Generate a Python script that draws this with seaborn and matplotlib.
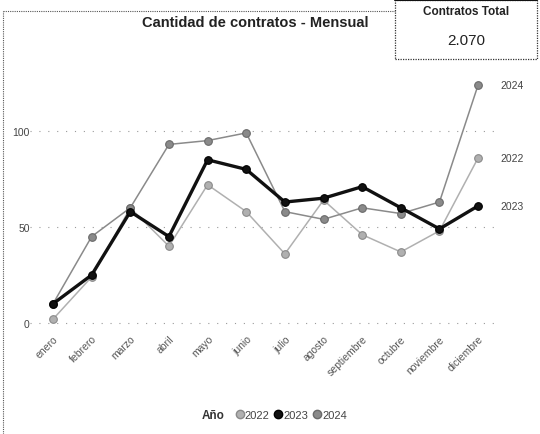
import matplotlib
matplotlib.use("Agg")
import matplotlib.pyplot as plt
from matplotlib.lines import Line2D
from matplotlib.patches import Rectangle
import seaborn as sns
import pandas as pd

meses = ["enero", "febrero", "marzo", "abril", "mayo", "junio", "julio",
         "agosto", "septiembre", "octubre", "noviembre", "diciembre"]
v2022 = [2, 24, 60, 40, 72, 58, 36, 64, 46, 37, 48, 86]
v2023 = [10, 25, 58, 45, 85, 80, 63, 65, 71, 60, 49, 61]
v2024 = [10, 45, 60, 93, 95, 99, 58, 54, 60, 57, 63, 124]
anios = ["2022", "2023", "2024"]
total_label = "2.070"

sns.set_theme(style="white")
plt.rcParams["font.family"] = ["Liberation Sans", "DejaVu Sans"]

rows = []
for a, vals in zip(anios, [v2022, v2023, v2024]):
    for i, (m, v) in enumerate(zip(meses, vals)):
        rows.append({"Año": a, "mes": i, "valor": v})
df = pd.DataFrame(rows)

colors = {"2022": "#b0b0b0", "2023": "#111111", "2024": "#8a8a8a"}
widths = {"2022": 1.1, "2023": 2.4, "2024": 1.1}
mec = {"2022": "#8a8a8a", "2023": "#000000", "2024": "#6a6a6a"}

fig = plt.figure(figsize=(5.4, 4.35), dpi=100)
ax = fig.add_axes([0.0552, 0.2375, 0.866, 0.5915])

for a in ["2022", "2024", "2023"]:
    sub = df[df["Año"] == a]
    sns.lineplot(data=sub, x="mes", y="valor", ax=ax, color=colors[a],
                 linewidth=widths[a], marker="o", markersize=5.5,
                 markeredgecolor=mec[a], markeredgewidth=0.8, legend=False,
                 zorder=3 if a == "2023" else 2)
    last = sub["valor"].iloc[-1]
    ax.annotate(a, xy=(11, last), xytext=(22, 0), textcoords="offset pixels",
                va="center", ha="left", fontsize=7.5, color="#444444",
                annotation_clip=False)

ax.set_xlim(-0.6, 11.5)
ax.set_ylim(-4, 130)
ax.set_yticks([0, 50, 100])
ax.set_yticklabels(["0", "50", "100"], fontsize=7.5, color="#444444")
ax.set_xticks(range(12))
ax.set_xticklabels(meses, rotation=45, ha="right", rotation_mode="anchor",
                   fontsize=7.5, color="#555555")
ax.tick_params(axis="x", length=0, pad=2)
ax.tick_params(axis="y", length=0, pad=0)
ax.set_xlabel("")
ax.set_ylabel("")
for s in ax.spines.values():
    s.set_visible(False)
for yv in [0, 50, 100]:
    ax.axhline(yv, color="#9a9a9a", linewidth=0.8, linestyle=(0, (1, 7)), zorder=0)

# Title
fig.text(0.472, 0.948, "Cantidad de contratos - Mensual", ha="center", va="center",
         fontsize=10.5, fontweight="bold", color="#222222")

# Outer dotted border
fig.add_artist(Line2D([0.006, 0.732], [0.972, 0.972], transform=fig.transFigure,
                      color="#555555", linewidth=0.8, linestyle=(0, (1, 1))))
fig.add_artist(Line2D([0.006, 0.006], [0.0, 0.972], transform=fig.transFigure,
                      color="#555555", linewidth=0.8, linestyle=(0, (1, 1))))

# KPI box
fig.add_artist(Rectangle((0.732, 0.862), 0.262, 0.136, transform=fig.transFigure,
                         fill=False, edgecolor="#333333", linewidth=0.9,
                         linestyle=(0, (1, 1))))
fig.add_artist(Line2D([0.732, 0.994], [0.997, 0.997], transform=fig.transFigure,
                      color="#111111", linewidth=1.5))
fig.text(0.863, 0.972, "Contratos Total", ha="center", va="center",
         fontsize=8.5, fontweight="bold", color="#222222")
fig.text(0.863, 0.905, total_label, ha="center", va="center",
         fontsize=11, color="#222222")

# Legend
fig.text(0.395, 0.043, "Año", ha="center", va="center", fontsize=8.5,
         fontweight="bold", color="#333333")
handles = [Line2D([], [], linestyle="none", marker="o", markersize=6,
                  color=colors[a], markeredgecolor=mec[a]) for a in anios]
fig.legend(handles, anios, loc="center", bbox_to_anchor=(0.54, 0.043), ncol=3,
           frameon=False, handlelength=0.6, handletextpad=0.15,
           columnspacing=0.5, fontsize=8, labelcolor="#444444")

fig.savefig("out.png", dpi=100)
